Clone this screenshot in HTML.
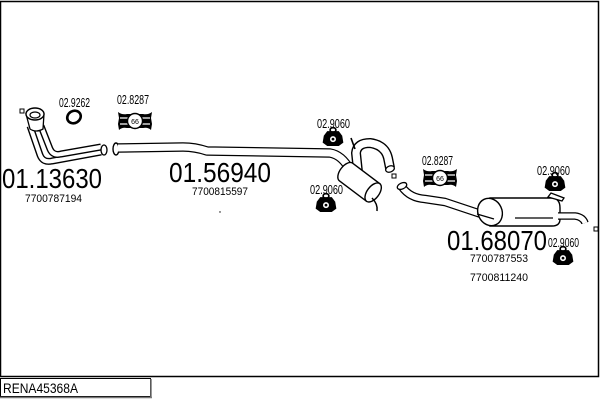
<!DOCTYPE html>
<html><head><meta charset="utf-8"><style>
html,body{margin:0;padding:0;background:#fff;}
svg{display:block;}
text{font-family:"Liberation Sans",Arial,sans-serif;fill:#000;}
</style></head><body>
<svg width="600" height="400" viewBox="0 0 600 400" xmlns="http://www.w3.org/2000/svg">
<defs>
<g id="mount">
  <ellipse cx="0" cy="-7" rx="2.5" ry="2" fill="#fff" stroke="#000" stroke-width="1.5"/>
  <path d="M-8,-2 L-5,-6 L5,-6 L8,-2 L9,4 L5,7 L-5,7 L-9,4 Z" fill="#000"/>
  <circle cx="0" cy="1" r="2.6" fill="#fff"/>
  <circle cx="0" cy="1" r="1.2" fill="#000"/>
</g>
<g id="clamp">
  <path d="M-17,-9 Q-13,-6 -8,-7 L8,-7 Q13,-6 17,-9 L16,-3 L17,3 L16,9 Q13,6 8,7 L-8,7 Q-13,6 -16,9 L-17,3 L-16,-3 Z" fill="#000"/>
  <path d="M-15,-3 L15,-3 M-15,3 L15,3" stroke="#fff" stroke-width="1.2"/>
  <circle cx="0" cy="0" r="7.5" fill="#fff" stroke="#000" stroke-width="1.4"/>
  <text x="0" y="3" font-size="7" text-anchor="middle">66</text>
</g>
</defs>

<!-- frame -->
<rect x="0.5" y="1.5" width="598" height="375" fill="none" stroke="#000" stroke-width="1.5"/>
<!-- label box -->
<rect x="0.5" y="378.5" width="150" height="18" fill="#fff" stroke="#000" stroke-width="1"/>
<line x1="151" y1="379" x2="151" y2="398" stroke="#777" stroke-width="1.5"/>
<line x1="0" y1="397.5" x2="152" y2="397.5" stroke="#777" stroke-width="1.5"/>
<text x="3" y="393" font-size="14" textLength="75" lengthAdjust="spacingAndGlyphs">RENA45368A</text>

<!-- small squares -->
<rect x="20" y="109" width="4" height="4" fill="#fff" stroke="#000" stroke-width="1"/>
<rect x="392" y="174" width="4" height="4" fill="#fff" stroke="#000" stroke-width="1"/>
<rect x="594" y="227" width="4" height="4" fill="#fff" stroke="#000" stroke-width="1"/>
<circle cx="220" cy="212" r="0.7" fill="#000"/>

<!-- front pipe 01.13630 -->
<g fill="none" stroke-linecap="butt" stroke-linejoin="round">
  <path d="M30,126 L40,155 Q43,163 52,161 L101,152" stroke="#000" stroke-width="7"/>
  <path d="M30,126 L40,155 Q43,163 52,161 L101,152" stroke="#fff" stroke-width="4.2"/>
  <path d="M41,126 L50,149 Q53,156 61,154 L101,147" stroke="#000" stroke-width="7"/>
  <path d="M41,126 L50,149 Q53,156 61,154 L101,147" stroke="#fff" stroke-width="4.2"/>
</g>
<path d="M26,114 L30,129 Q36,133 43,129 L44,114 Z" fill="#fff" stroke="#000" stroke-width="1.3"/>
<ellipse cx="35" cy="114" rx="9" ry="6" fill="#fff" stroke="#000" stroke-width="1.4"/>
<ellipse cx="35" cy="115" rx="5" ry="3" fill="#fff" stroke="#000" stroke-width="1.2"/>
<ellipse cx="104" cy="150" rx="3" ry="5" fill="#fff" stroke="#000" stroke-width="1.3"/>
<ellipse cx="116" cy="149" rx="3" ry="6" fill="#fff" stroke="#000" stroke-width="1.4"/>

<!-- main pipe 01.56940 -->
<g fill="none" stroke-linejoin="round">
  <path d="M118,148 L183,147 Q195,147 207,151 L330,153 Q342,155 350,170" stroke="#000" stroke-width="9.5"/>
  <path d="M118,148 L183,147 Q195,147 207,151 L330,153 Q342,155 350,170" stroke="#fff" stroke-width="7"/>
  <!-- U-bend -->
  <path d="M358,172 L356,153 Q357,143 370,143 Q385,145 388,158 L390,168" stroke="#000" stroke-width="10"/>
  <path d="M358,172 L356,153 Q357,143 370,143 Q385,145 388,158 L390,168" stroke="#fff" stroke-width="7.2"/>
</g>
<ellipse cx="390" cy="169" rx="4.5" ry="3" transform="rotate(-20 390 169)" fill="#fff" stroke="#000" stroke-width="1.3"/>
<path d="M351,138 L355,149" stroke="#000" stroke-width="1.6" fill="none"/>
<g transform="translate(346,172) rotate(37)">
  <path d="M0,-11 L34,-11 L34,11 L0,11 A6,11 0 0 1 0,-11 Z" fill="#fff" stroke="#000" stroke-width="1.4"/>
  <ellipse cx="34" cy="0" rx="6" ry="11" fill="#fff" stroke="#000" stroke-width="1.4"/>
</g>
<path d="M372,198 Q378,204 377,211" stroke="#000" stroke-width="1.5" fill="none"/>

<!-- rear section 01.68070 -->
<g fill="none" stroke-linejoin="round">
  <path d="M402,187 Q410,198 425,199 L445,202 Q460,207 478,213 L497,218" stroke="#000" stroke-width="8.5"/>
  <path d="M402,187 Q410,198 425,199 L445,202 Q460,207 478,213 L497,218" stroke="#fff" stroke-width="6"/>
</g>
<ellipse cx="402" cy="186" rx="5" ry="3" transform="rotate(-25 402 186)" fill="#fff" stroke="#000" stroke-width="1.3"/>
<path d="M490,198 L553,198 Q560,199 560,208 L560,219 Q560,226 552,226 L490,226 Z" fill="#fff" stroke="#000" stroke-width="1.4"/>
<ellipse cx="490" cy="212" rx="12" ry="14" transform="rotate(-25 490 212)" fill="#fff" stroke="#000" stroke-width="1.4"/>
<path d="M477,214 L494,219" stroke="#000" stroke-width="1.2"/>
<path d="M515,218 L553,218" stroke="#000" stroke-width="1.3"/>
<g fill="none">
  <path d="M558,216 L575,216 Q583,217 585,223" stroke="#000" stroke-width="7.5"/>
  <path d="M558,216 L575,216 Q583,217 585,223" stroke="#fff" stroke-width="5"/>
</g>
<path d="M548,197 L551,193 L564,198 L562,201 Z" fill="#fff" stroke="#000" stroke-width="1.3"/>

<!-- gasket ring 02.9262 -->
<ellipse cx="74" cy="117" rx="7" ry="6" transform="rotate(-30 74 117)" fill="none" stroke="#000" stroke-width="2.6"/>

<!-- clamps -->
<use href="#clamp" transform="translate(135,121)"/>
<use href="#clamp" transform="translate(440,178)"/>

<!-- mounts -->
<use href="#mount" transform="translate(333,138) scale(1.15)"/>
<use href="#mount" transform="translate(326,204) scale(1.15)"/>
<use href="#mount" transform="translate(555,183) scale(1.15)"/>
<use href="#mount" transform="translate(563,257) scale(1.15)"/>

<!-- labels -->
<text x="59" y="107" font-size="13" textLength="31" lengthAdjust="spacingAndGlyphs">02.9262</text>
<text x="117" y="104" font-size="13" textLength="32" lengthAdjust="spacingAndGlyphs">02.8287</text>
<text x="317" y="128" font-size="13" textLength="33" lengthAdjust="spacingAndGlyphs">02.9060</text>
<text x="310" y="194" font-size="13" textLength="33" lengthAdjust="spacingAndGlyphs">02.9060</text>
<text x="422" y="165" font-size="13" textLength="31" lengthAdjust="spacingAndGlyphs">02.8287</text>
<text x="537" y="175" font-size="13" textLength="33" lengthAdjust="spacingAndGlyphs">02.9060</text>

<text x="2" y="188" font-size="28" textLength="100" lengthAdjust="spacingAndGlyphs">01.13630</text>
<text x="25" y="202" font-size="11" textLength="57" lengthAdjust="spacingAndGlyphs">7700787194</text>
<text x="169" y="182" font-size="28" textLength="102" lengthAdjust="spacingAndGlyphs">01.56940</text>
<text x="192" y="195" font-size="11" textLength="56" lengthAdjust="spacingAndGlyphs">7700815597</text>
<text x="447" y="250" font-size="28" textLength="100" lengthAdjust="spacingAndGlyphs">01.68070</text>
<text x="548" y="247" font-size="13" textLength="31" lengthAdjust="spacingAndGlyphs">02.9060</text>
<text x="470" y="262" font-size="11" textLength="58" lengthAdjust="spacingAndGlyphs">7700787553</text>
<text x="470" y="281" font-size="11" textLength="58" lengthAdjust="spacingAndGlyphs">7700811240</text>
</svg>
</body></html>
